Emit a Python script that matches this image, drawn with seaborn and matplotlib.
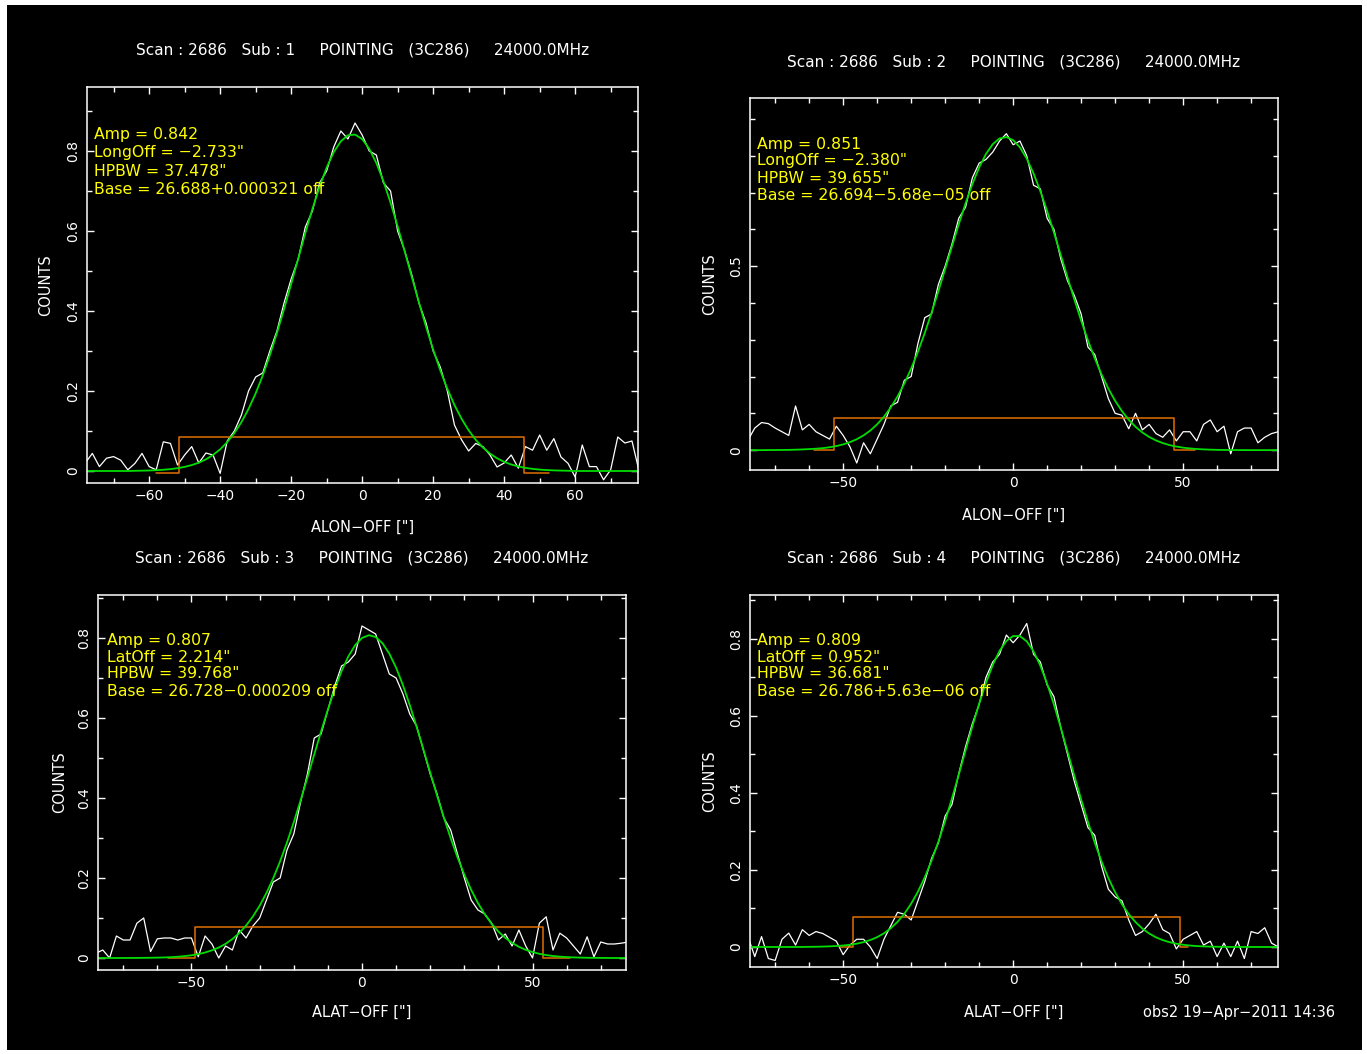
import matplotlib
matplotlib.use("Agg")
import matplotlib.pyplot as plt
from matplotlib.ticker import MultipleLocator, FuncFormatter
import pandas as pd
import seaborn as sns

# Setup
sns.set_style("ticks")
plt.rcParams['font.family'] = ['DejaVu Sans']
plt.rcParams['axes.unicode_minus'] = True

W, H = 1367, 1054

# Data: scan offsets ["] and counts
offsets = [-78, -76, -74, -72, -70, -68, -66, -64, -62, -60, -58, -56, -54, -52,
           -50, -48, -46, -44, -42, -40, -38, -36, -34, -32, -30, -28, -26, -24,
           -22, -20, -18, -16, -14, -12, -10, -8, -6, -4, -2, 0, 2, 4, 6, 8,
           10, 12, 14, 16, 18, 20, 22, 24, 26, 28, 30, 32, 34, 36, 38, 40,
           42, 44, 46, 48, 50, 52, 54, 56, 58, 60, 62, 64, 66, 68, 70, 72,
           74, 76, 78]

sub1_counts = [0.020, 0.044, 0.011, 0.032, 0.036, 0.027, 0.003, 0.019, 0.044, 0.011,
               0.003, 0.073, 0.069, 0.015, 0.040, 0.061, 0.020, 0.045, 0.040, -0.006,
               0.075, 0.100, 0.140, 0.200, 0.235, 0.245, 0.300, 0.350, 0.420, 0.480,
               0.530, 0.610, 0.650, 0.720, 0.750, 0.810, 0.850, 0.830, 0.870, 0.840,
               0.800, 0.790, 0.720, 0.700, 0.600, 0.550, 0.490, 0.420, 0.370, 0.300,
               0.260, 0.200, 0.115, 0.078, 0.050, 0.069, 0.061, 0.040, 0.010, 0.020,
               0.040, 0.007, 0.061, 0.052, 0.090, 0.052, 0.081, 0.035, 0.019, -0.015,
               0.065, 0.011, 0.011, -0.022, 0.003, 0.085, 0.070, 0.075, 0.000]
sub1_fit = [0, 0, 0, 0, 0, 0, 0, 0.0005, 0.0008, 0.0013,
            0.0020, 0.0031, 0.0047, 0.0070, 0.0103, 0.0148, 0.0209, 0.0292, 0.0401, 0.0542,
            0.0722, 0.0947, 0.1222, 0.1552, 0.1940, 0.2387, 0.2891, 0.3447, 0.4046, 0.4674,
            0.5314, 0.5948, 0.6553, 0.7107, 0.7586, 0.7971, 0.8244, 0.8393, 0.8411, 0.8297,
            0.8055, 0.7699, 0.7243, 0.6708, 0.6114, 0.5486, 0.4845, 0.4212, 0.3604, 0.3036,
            0.2517, 0.2054, 0.1650, 0.1305, 0.1016, 0.0778, 0.0587, 0.0436, 0.0318, 0.0229,
            0.0162, 0.0113, 0.0078, 0.0053, 0.0035, 0.0023, 0.0015, 0.0010, 0.0006, 0,
            0, 0, 0, 0, 0, 0, 0, 0, 0]

sub2_counts = [0.027, 0.060, 0.075, 0.072, 0.060, 0.050, 0.040, 0.120, 0.055, 0.070,
               0.050, 0.040, 0.030, 0.065, 0.040, 0.009, -0.035, 0.020, -0.010, 0.030,
               0.070, 0.120, 0.130, 0.190, 0.200, 0.290, 0.360, 0.370, 0.450, 0.500,
               0.560, 0.630, 0.660, 0.740, 0.780, 0.790, 0.810, 0.840, 0.860, 0.830,
               0.840, 0.800, 0.720, 0.710, 0.630, 0.600, 0.520, 0.460, 0.420, 0.370,
               0.280, 0.260, 0.200, 0.140, 0.100, 0.095, 0.058, 0.100, 0.055, 0.070,
               0.045, 0.035, 0.055, 0.025, 0.050, 0.050, 0.025, 0.070, 0.082, 0.050,
               0.065, -0.010, 0.050, 0.060, 0.060, 0.020, 0.035, 0.045, 0.050]
sub2_fit = [0, 0, 0, 0.0002, 0.0003, 0.0005, 0.0007, 0.0012, 0.0019, 0.0028,
            0.0039, 0.0054, 0.0078, 0.0111, 0.0156, 0.0217, 0.0297, 0.0401, 0.0534, 0.0702,
            0.0909, 0.1160, 0.1460, 0.1812, 0.2218, 0.2676, 0.3183, 0.3734, 0.4317, 0.4923,
            0.5535, 0.6136, 0.6708, 0.7229, 0.7682, 0.8049, 0.8316, 0.8471, 0.8508, 0.8425,
            0.8227, 0.7920, 0.7520, 0.7038, 0.6495, 0.5910, 0.5303, 0.4691, 0.4093, 0.3519,
            0.2984, 0.2495, 0.2057, 0.1672, 0.1340, 0.1059, 0.0825, 0.0634, 0.0480, 0.0358,
            0.0264, 0.0192, 0.0137, 0.0097, 0.0067, 0.0046, 0.0031, 0.0020, 0.0013, 0.0008,
            0.0005, 0.0003, 0.0002, 0, 0, 0, 0, 0, 0]

sub3_counts = [0.012, 0.020, 0.000, 0.055, 0.045, 0.045, 0.087, 0.100, 0.016, 0.048,
               0.050, 0.050, 0.045, 0.050, 0.050, 0.003, 0.055, 0.035, 0.000, 0.030,
               0.020, 0.070, 0.050, 0.080, 0.100, 0.145, 0.190, 0.200, 0.270, 0.310,
               0.390, 0.460, 0.550, 0.560, 0.620, 0.680, 0.730, 0.740, 0.760, 0.830,
               0.820, 0.810, 0.760, 0.710, 0.700, 0.660, 0.610, 0.580, 0.520, 0.460,
               0.410, 0.350, 0.320, 0.260, 0.200, 0.145, 0.120, 0.110, 0.087, 0.045,
               0.060, 0.030, 0.070, 0.030, 0.000, 0.087, 0.103, 0.020, 0.062, 0.050,
               0.030, 0.010, 0.053, 0.003, 0.040, 0.035, 0.035, 0.037, 0.040]
sub3_fit = [0, 0, 0, 0, 0.0001, 0.0001, 0.0002, 0.0004, 0.0006, 0.0009,
            0.0014, 0.0021, 0.0032, 0.0047, 0.0068, 0.0097, 0.0137, 0.0191, 0.0262, 0.0355,
            0.0474, 0.0624, 0.0810, 0.1037, 0.1309, 0.1629, 0.1999, 0.2419, 0.2887, 0.3397,
            0.3943, 0.4511, 0.5090, 0.5663, 0.6213, 0.6722, 0.7169, 0.7541, 0.7822, 0.8001,
            0.8070, 0.8025, 0.7870, 0.7610, 0.7257, 0.6822, 0.6326, 0.5783, 0.5213, 0.4635,
            0.4062, 0.3511, 0.2993, 0.2515, 0.2085, 0.1704, 0.1373, 0.1091, 0.0855, 0.0660,
            0.0503, 0.0378, 0.0280, 0.0204, 0.0147, 0.0105, 0.0073, 0.0050, 0.0034, 0.0023,
            0.0015, 0.0010, 0.0006, 0.0004, 0.0002, 0.0001, 0, 0, 0]

sub4_counts = [0.027, -0.025, 0.027, -0.030, -0.035, 0.020, 0.036, 0.005, 0.045, 0.030,
               0.040, 0.035, 0.025, 0.015, -0.020, 0.005, 0.020, 0.020, 0.000, -0.030,
               0.020, 0.055, 0.090, 0.085, 0.070, 0.120, 0.170, 0.230, 0.270, 0.340,
               0.370, 0.450, 0.520, 0.580, 0.630, 0.700, 0.740, 0.760, 0.810, 0.790,
               0.810, 0.840, 0.760, 0.740, 0.680, 0.650, 0.570, 0.500, 0.430, 0.370,
               0.310, 0.290, 0.210, 0.150, 0.130, 0.120, 0.070, 0.030, 0.040, 0.060,
               0.085, 0.045, 0.035, -0.005, 0.020, 0.030, 0.040, 0.005, 0.015, -0.025,
               0.010, -0.025, 0.015, -0.030, 0.040, 0.035, 0.050, 0.010, 0.000]
sub4_fit = [0, 0, 0, 0, 0, 0, 0, 0, 0, 0.0004,
            0.0006, 0.0010, 0.0016, 0.0025, 0.0038, 0.0058, 0.0086, 0.0126, 0.0181, 0.0255,
            0.0355, 0.0486, 0.0653, 0.0863, 0.1124, 0.1439, 0.1811, 0.2243, 0.2732, 0.3274,
            0.3859, 0.4475, 0.5104, 0.5726, 0.6318, 0.6858, 0.7323, 0.7691, 0.7946, 0.8075,
            0.8072, 0.7937, 0.7677, 0.7303, 0.6834, 0.6291, 0.5696, 0.5073, 0.4445, 0.3831,
            0.3247, 0.2708, 0.2221, 0.1791, 0.1421, 0.1110, 0.0853, 0.0644, 0.0478, 0.0350,
            0.0251, 0.0178, 0.0124, 0.0085, 0.0057, 0.0037, 0.0024, 0.0015, 0.0009, 0.0006,
            0.0003, 0, 0, 0, 0, 0, 0, 0, 0]

# baseline windows (orange)
sub1_win_x = [-58.0, -51.6, -51.6, 45.6, 45.6, 52.7]
sub1_win_y = [-0.004, -0.004, 0.084, 0.084, -0.004, -0.004]
sub2_win_x = [-58.6, -52.6, -52.6, 47.4, 47.4, 53.5]
sub2_win_y = [0.0, 0.0, 0.086, 0.086, 0.0, 0.0]
sub3_win_x = [-56.8, -49.0, -49.0, 53.1, 53.1, 61.0]
sub3_win_y = [0.0, 0.0, 0.078, 0.078, 0.0, 0.0]
sub4_win_x = [-50.9, -47.0, -47.0, 49.2, 49.2, 51.5]
sub4_win_y = [0.0, 0.0, 0.079, 0.079, 0.0, 0.0]

sub1_info = ["Amp = 0.842", "LongOff = \u22122.733\"", "HPBW = 37.478\"", "Base = 26.688+0.000321 off"]
sub2_info = ["Amp = 0.851", "LongOff = \u22122.380\"", "HPBW = 39.655\"", "Base = 26.694\u22125.68e\u221205 off"]
sub3_info = ["Amp = 0.807", "LatOff = 2.214\"", "HPBW = 39.768\"", "Base = 26.728\u22120.000209 off"]
sub4_info = ["Amp = 0.809", "LatOff = 0.952\"", "HPBW = 36.681\"", "Base = 26.786+5.63e\u221206 off"]

title_fmt = "Scan : 2686   Sub : {}     POINTING   (3C286)     24000.0MHz"

# panel layout (pixel boxes: left, top, right, bottom)
panels = [
    dict(sub=1, counts=sub1_counts, fit=sub1_fit, wx=sub1_win_x, wy=sub1_win_y, info=sub1_info,
         box=(87, 87, 638, 483), xlim=(-77.5, 77.7), ylim=(-0.03, 0.96), xmaj=20, ymaj=0.2,
         xlabel="ALON\u2212OFF [\"]", title_y=50, xlabel_y=527, ylabel_x=46, info_xy=(94, 135), dy=18),
    dict(sub=2, counts=sub2_counts, fit=sub2_fit, wx=sub2_win_x, wy=sub2_win_y, info=sub2_info,
         box=(750, 98, 1278, 470), xlim=(-77.4, 77.9), ylim=(-0.054, 0.957), xmaj=50, ymaj=0.5,
         xlabel="ALON\u2212OFF [\"]", title_y=62, xlabel_y=515, ylabel_x=710, info_xy=(757, 144), dy=17),
    dict(sub=3, counts=sub3_counts, fit=sub3_fit, wx=sub3_win_x, wy=sub3_win_y, info=sub3_info,
         box=(98, 595, 626, 970), xlim=(-77.4, 77.4), ylim=(-0.03, 0.9075), xmaj=50, ymaj=0.2,
         xlabel="ALAT\u2212OFF [\"]", title_y=558, xlabel_y=1012, ylabel_x=60, info_xy=(107, 640), dy=17),
    dict(sub=4, counts=sub4_counts, fit=sub4_fit, wx=sub4_win_x, wy=sub4_win_y, info=sub4_info,
         box=(750, 595, 1278, 967), xlim=(-77.4, 77.9), ylim=(-0.052, 0.914), xmaj=50, ymaj=0.2,
         xlabel="ALAT\u2212OFF [\"]", title_y=558, xlabel_y=1012, ylabel_x=710, info_xy=(757, 640), dy=17),
]


def fx(x):
    return x / W


def fy(y):
    return 1 - y / H


def tick_fmt(v, _):
    if abs(v) < 1e-9:
        return "0"
    return f"{v:g}".replace("-", "\u2212")


fig = plt.figure(figsize=(W / 100, H / 100), dpi=100)
fig.patch.set_facecolor("white")
fig.add_artist(plt.Rectangle((fx(7), fy(1050)), fx(1362 - 7), (1050 - 5) / H,
                             transform=fig.transFigure, facecolor="black",
                             edgecolor="none", zorder=-10))

for p in panels:
    l, t, r, b = p["box"]
    ax = fig.add_axes([fx(l), fy(b), (r - l) / W, (b - t) / H])
    ax.set_facecolor("black")

    df = pd.DataFrame({"offset": offsets, "counts": p["counts"], "fit": p["fit"]})
    sns.lineplot(data=df, x="offset", y="counts", ax=ax, color="white", linewidth=0.9,
                 estimator=None, sort=False)
    ax.plot(p["wx"], p["wy"], color="#e07000", linewidth=1.1)
    sns.lineplot(data=df, x="offset", y="fit", ax=ax, color="#00dd00", linewidth=1.3,
                 estimator=None, sort=False)

    ax.set_xlim(*p["xlim"])
    ax.set_ylim(*p["ylim"])
    ax.set_xlabel("")
    ax.set_ylabel("")

    ax.xaxis.set_major_locator(MultipleLocator(p["xmaj"]))
    ax.xaxis.set_minor_locator(MultipleLocator(10))
    ax.yaxis.set_major_locator(MultipleLocator(p["ymaj"]))
    ax.yaxis.set_minor_locator(MultipleLocator(0.1))
    ax.xaxis.set_major_formatter(FuncFormatter(tick_fmt))
    ax.yaxis.set_major_formatter(FuncFormatter(tick_fmt))

    ax.tick_params(which="both", direction="in", top=True, right=True,
                   color="white", labelcolor="white", labelsize=10, width=1.0)
    ax.tick_params(which="major", length=5)
    ax.tick_params(which="minor", length=3.5)
    ax.tick_params(axis="x", pad=4)
    ax.tick_params(axis="y", pad=5)
    for lab in ax.get_yticklabels():
        lab.set_rotation(90)
        lab.set_va("center")
    for s in ax.spines.values():
        s.set_color("white")
        s.set_linewidth(1.1)

    cx = (l + r) / 2
    fig.text(fx(cx), fy(p["title_y"]), title_fmt.format(p["sub"]), color="white",
             fontsize=11, ha="center", va="center")
    fig.text(fx(cx), fy(p["xlabel_y"]), p["xlabel"], color="white",
             fontsize=10.5, ha="center", va="center")
    fig.text(fx(p["ylabel_x"]), fy((t + b) / 2), "COUNTS", color="white",
             fontsize=10.5, ha="center", va="center", rotation=90)
    ix, iy = p["info_xy"]
    for i, line in enumerate(p["info"]):
        fig.text(fx(ix), fy(iy + i * p["dy"]), line, color="#ffff00",
                 fontsize=11.3, ha="left", va="center")

fig.text(fx(1239), fy(1013), "obs2 19\u2212Apr\u22122011 14:36", color="white",
         fontsize=10.5, ha="center", va="center")

fig.savefig("out.png", dpi=100, facecolor=fig.get_facecolor())
